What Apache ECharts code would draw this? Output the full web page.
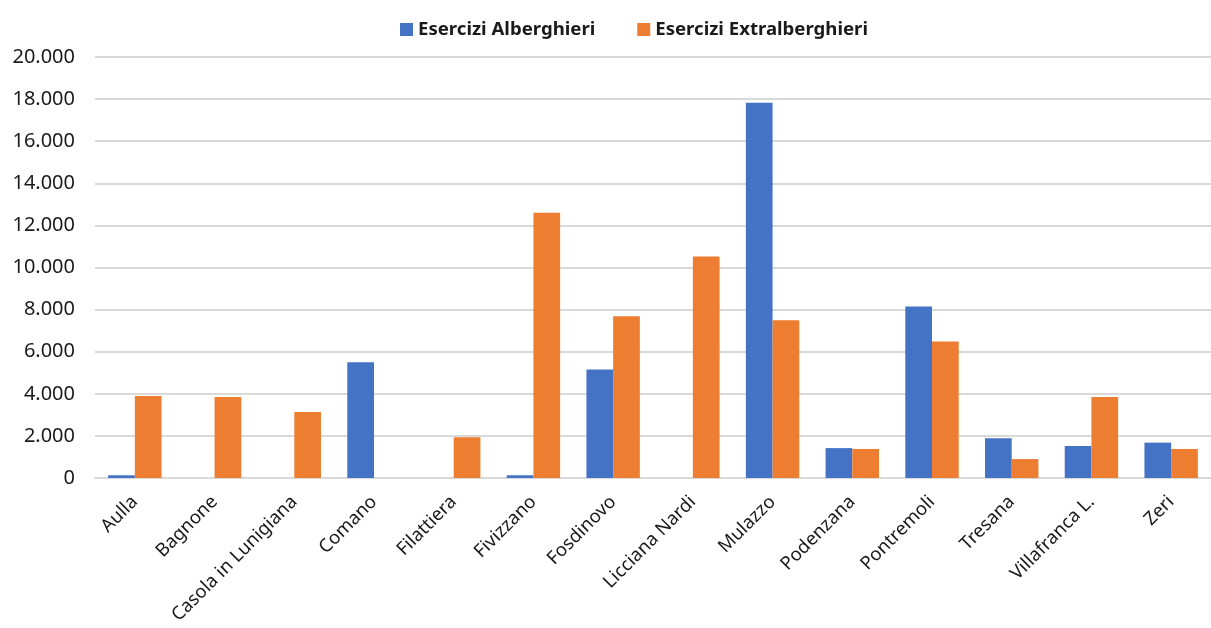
<!DOCTYPE html>
<html>
<head>
<meta charset="utf-8">
<script src="https://cdn.jsdelivr.net/npm/echarts@6/dist/echarts.min.js"></script>
<style>
  html, body { margin: 0; padding: 0; background: #fff; }
  #chart { width: 1211px; height: 628px; }
</style>
</head>
<body>
<div id="chart"></div>
<script>
const comuni = ['Aulla', 'Bagnone', 'Casola in Lunigiana', 'Comano', 'Filattiera', 'Fivizzano', 'Fosdinovo',
  'Licciana Nardi', 'Mulazzo', 'Podenzana', 'Pontremoli', 'Tresana', 'Villafranca L.', 'Zeri'];
const alberghieri = [130, 0, 0, 5500, 0, 130, 5150, 0, 17830, 1420, 8150, 1890, 1520, 1680];
const extralberghieri = [3900, 3850, 3130, 0, 1940, 12600, 7680, 10520, 7490, 1380, 6490, 900, 3850, 1380];
const seriesNames = ['Esercizi Alberghieri', 'Esercizi Extralberghieri'];

const font = '"Noto Sans", "Open Sans", sans-serif';

const myChart = echarts.init(document.getElementById('chart'));

const option = {
  animation: false,
  color: ['#4472C4', '#ED7D31'],
  legend: {
    top: 15,
    left: 395,
    itemWidth: 13,
    itemHeight: 13,
    itemGap: 42,
    icon: 'rect',
    textStyle: { fontFamily: font, fontSize: 18.6, fontWeight: 'bold', color: '#1a1a1a' },
    data: seriesNames,
  },
  grid: { left: 95, right: 0, top: 57, bottom: 150 },
  xAxis: {
    type: 'category',
    data: comuni,
    axisTick: { show: false },
    axisLine: { lineStyle: { color: '#D9D9D9', width: 2 } },
    axisLabel: {
      rotate: 45,
      interval: 0,
      margin: 21,
      fontFamily: font,
      fontSize: 18.5,
      color: '#1a1a1a',
    },
  },
  yAxis: {
    type: 'value',
    min: 0,
    max: 20000,
    interval: 2000,
    axisLine: { show: false },
    axisTick: { show: false },
    splitLine: { lineStyle: { color: '#D9D9D9', width: 2 } },
    axisLabel: {
      margin: 20,
      fontFamily: font,
      fontSize: 20,
      color: '#1a1a1a',
      formatter: (v) => v.toString().replace(/\B(?=(\d{3})+(?!\d))/g, '.'),
    },
  },
  series: [
    {
      name: seriesNames[0],
      type: 'bar',
      data: alberghieri,
      barGap: '0%',
      barCategoryGap: '33%',
    },
    {
      name: seriesNames[1],
      type: 'bar',
      data: extralberghieri,
      barGap: '0%',
      barCategoryGap: '33%',
    },
  ],
};

myChart.setOption(option);
window.addEventListener('resize', () => {
  myChart.resize();
});
</script>
</body>
</html>
